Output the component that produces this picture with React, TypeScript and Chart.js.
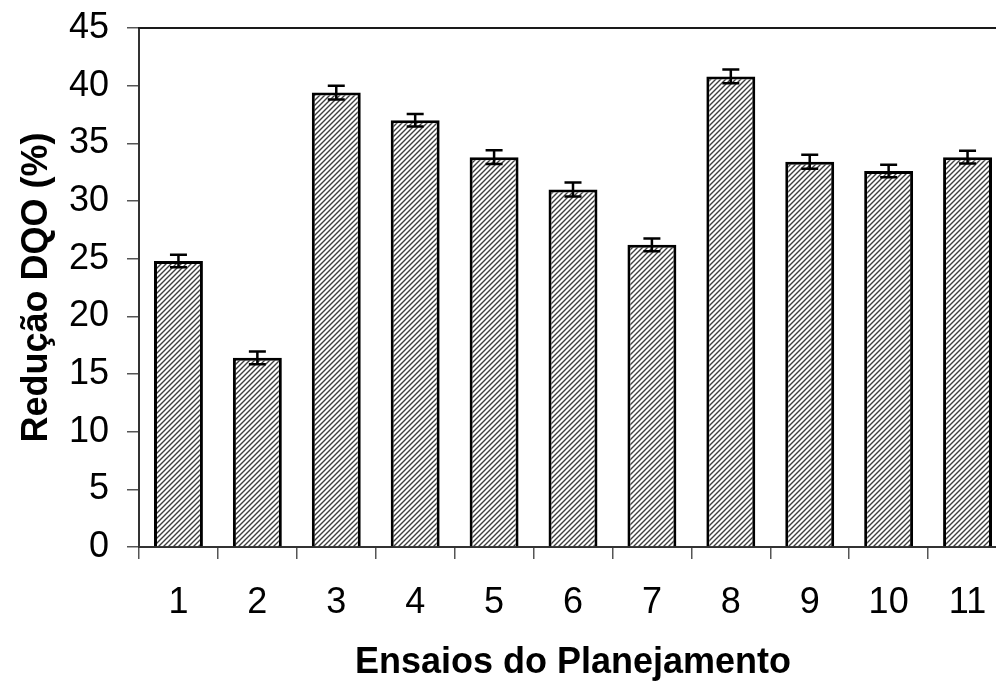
import React, { useEffect, useRef } from "react";
import { Chart, registerables } from "chart.js";

Chart.register(...registerables);

const categories = ["1", "2", "3", "4", "5", "6", "7", "8", "9", "10", "11"];
const reducaoDQO = [24.8, 16.4, 39.4, 37.0, 33.8, 31.0, 26.2, 40.8, 33.4, 32.6, 33.8];
const erros = [0.55, 0.55, 0.6, 0.55, 0.6, 0.6, 0.55, 0.6, 0.6, 0.55, 0.55];
const yTicks = [0, 5, 10, 15, 20, 25, 30, 35, 40, 45];
const xTitle = "Ensaios do Planejamento";
const yTitle = "Redução DQO (%)";

function makePattern(): CanvasPattern | string {
  const c = document.createElement("canvas");
  const s = 5;
  c.width = s;
  c.height = s;
  const g = c.getContext("2d");
  if (!g) return "#999";
  g.fillStyle = "#ffffff";
  g.fillRect(0, 0, s, s);
  g.strokeStyle = "#404040";
  g.lineWidth = 1.4;
  g.beginPath();
  g.moveTo(-1, s + 1);
  g.lineTo(s + 1, -1);
  g.moveTo(-1, 1);
  g.lineTo(1, -1);
  g.moveTo(s - 1, s + 1);
  g.lineTo(s + 1, s - 1);
  g.stroke();
  const p = g.createPattern(c, "repeat");
  return p || "#999";
}

const errorBarPlugin = {
  id: "errorBars",
  afterDatasetsDraw(chart: any) {
    const ctx = chart.ctx;
    const meta = chart.getDatasetMeta(0);
    const yScale = chart.scales.y;
    ctx.save();
    ctx.strokeStyle = "#000";
    ctx.lineWidth = 2.5;
    meta.data.forEach((bar: any, i: number) => {
      const v = reducaoDQO[i];
      const e = erros[i];
      const yTop = yScale.getPixelForValue(v + e);
      const yBot = yScale.getPixelForValue(v - e);
      const x = bar.x;
      const hw = 8.5;
      ctx.beginPath();
      ctx.moveTo(x, yTop);
      ctx.lineTo(x, yBot);
      ctx.moveTo(x - hw, yTop);
      ctx.lineTo(x + hw, yTop);
      ctx.moveTo(x - hw, yBot);
      ctx.lineTo(x + hw, yBot);
      ctx.stroke();
    });
    ctx.restore();
  },
};

const frameplugin = {
  id: "frameTop",
  afterDraw(chart: any) {
    const { ctx, chartArea } = chart;
    ctx.save();
    ctx.strokeStyle = "#1a1a1a";
    ctx.lineWidth = 2;
    ctx.beginPath();
    ctx.moveTo(chartArea.left - 1, chartArea.top);
    ctx.lineTo(chartArea.right, chartArea.top);
    ctx.lineTo(chartArea.right, chartArea.bottom);
    ctx.stroke();
    ctx.restore();
  },
};

export default function App() {
  const ref = useRef<HTMLCanvasElement | null>(null);
  useEffect(() => {
    if (!ref.current) return;
    const chart = new Chart(ref.current, {
      type: "bar",
      data: {
        labels: categories,
        datasets: [
          {
            data: reducaoDQO,
            backgroundColor: makePattern() as any,
            borderColor: "#000",
            borderWidth: 3,
            barPercentage: 0.62,
            categoryPercentage: 1,
          },
        ],
      },
      options: {
        animation: false,
        responsive: false,
        maintainAspectRatio: false,
        layout: { padding: { top: 28, right: 3, bottom: 0, left: 0 } },
        plugins: {
          legend: { display: false },
          tooltip: { enabled: false },
        },
        scales: {
          x: {
            grid: {
              display: true,
              drawOnChartArea: false,
              offset: true,
              tickLength: 12,
              color: "#555",
              lineWidth: 1.5,
            },
            border: { display: true, color: "#333", width: 2 },
            ticks: {
              color: "#000",
              padding: 22,
              font: { family: "'Liberation Sans', Arial, sans-serif", size: 36 },
              maxRotation: 0,
              autoSkip: false,
            },
            title: {
              display: true,
              text: xTitle,
              color: "#000",
              font: { family: "'Liberation Sans', Arial, sans-serif", size: 36, weight: "bold" },
              padding: { top: 0, bottom: -2 },
            },
            afterFit(s: any) {
              s.height = 136;
              s.paddingLeft = 0;
              s.paddingRight = 0;
            },
          },
          y: {
            min: 0,
            max: 45,
            afterBuildTicks(s: any) {
              s.ticks = yTicks.map((v) => ({ value: v }));
            },
            grid: {
              display: true,
              drawOnChartArea: false,
              tickLength: 12,
              color: "#555",
              lineWidth: 1.5,
            },
            border: { display: true, color: "#333", width: 2 },
            ticks: {
              color: "#000",
              padding: 18,
              font: { family: "'Liberation Sans', Arial, sans-serif", size: 36 },
            },
            title: {
              display: true,
              text: yTitle,
              color: "#000",
              font: { family: "'Liberation Sans', Arial, sans-serif", size: 36, weight: "bold" },
              padding: { top: 15, bottom: 0 },
            },
            afterFit(s: any) {
              s.width = 139;
              s.paddingTop = 0;
              s.paddingBottom = 0;
            },
          },
        },
      },
      plugins: [errorBarPlugin, frameplugin],
    });
    return () => chart.destroy();
  }, []);

  return (
    <div
      style={{
        position: "fixed",
        left: 0,
        top: 0,
        width: 996,
        height: 683,
        overflow: "hidden",
        background: "#fff",
      }}
    >
      <canvas ref={ref} width={1010} height={683} style={{ display: "block", width: 1010, height: 683 }} />
    </div>
  );
}
